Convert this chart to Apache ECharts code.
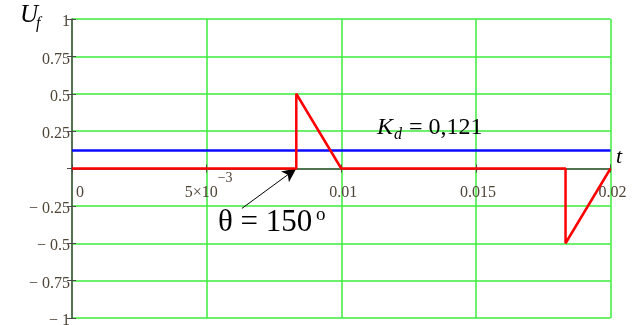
<!DOCTYPE html>
<html>
<head>
<meta charset="utf-8">
<script src="https://cdn.jsdelivr.net/npm/echarts@6/dist/echarts.min.js"></script>
<style>
  html, body { margin: 0; padding: 0; background: #ffffff; }
  #chart { width: 633px; height: 325px; }
</style>
</head>
<body>
<div id="chart"></div>
<script>
// Time axis (seconds) and phase-controlled voltage U_f
var tTicks = [0, 0.005, 0.01, 0.015, 0.02];
var uTicks = [-1, -0.75, -0.5, -0.25, 0, 0.25, 0.5, 0.75, 1];

// Output voltage: zero until the firing angle, then the tail of the half-wave
var ufTime  = [0, 0.00833, 0.00833, 0.01, 0.01833, 0.01833, 0.02];
var ufValue = [0, 0,       0.5,     0,    0,       -0.5,    0];

// Mean level (coefficient K_d)
var kd = 0.121;
var kdTime = [0, 0.02];

// Firing angle annotation arrow (from the caption to the switching instant)
var arrowFrom = [0.00631, -0.267];
var arrowTo   = [0.00833, 0];

var thetaText = '\u03b8 = 150';
var kdText = '= 0,121';

var serif = '"Liberation Serif", "Times New Roman", serif';
var labelColor = '#4f4438';
var gridGreen = '#3cec3c';
var axisGray = '#4a4a4a';

// plot box inside the 633x325 canvas
var gridTop = 19, gridBottom = 7, gridLeft = 72, gridRight = 22.5;
var plotH = 325 - gridTop - gridBottom;
// time axis sits on U = 0 (middle of the symmetric value range)
var zeroOffset = -plotH * (0 - uTicks[0]) / (uTicks[uTicks.length - 1] - uTicks[0]);

function pairs(xs, ys) {
  return xs.map(function (x, i) { return [x, ys[i]]; });
}

function xLabel(v) {
  if (Math.abs(v - 0.005) < 1e-9) return '{m|5\u00d710}{e|\u22123}';
  if (v === 0) return '{m|0}';
  return '{m|' + String(+v.toFixed(3)) + '}';
}

function yLabel(v) {
  if (v === 0) return '';
  var s = String(Math.abs(v));
  return '{v|' + (v < 0 ? '\u2212 ' + s : s) + '}';
}

var chart = echarts.init(document.getElementById('chart'), null, { renderer: 'canvas' });

var xBase = { type: 'value', min: tTicks[0], max: tTicks[tTicks.length - 1], interval: 0.005 };
var yBase = { type: 'value', min: uTicks[0], max: uTicks[uTicks.length - 1], interval: 0.25 };

chart.setOption({
  animation: false,
  backgroundColor: '#ffffff',
  grid: {
    left: gridLeft, right: gridRight, top: gridTop, bottom: gridBottom,
    containLabel: false, outerBoundsMode: 'none'
  },
  xAxis: [
    Object.assign({}, xBase, {
      z: 3,
      position: 'bottom',
      offset: zeroOffset,
      axisLine: { show: true, onZero: false, lineStyle: { color: axisGray, width: 1.5 } },
      axisTick: { show: true, inside: false, length: 4, lineStyle: { color: axisGray, width: 1 } },
      axisLabel: {
        show: true, margin: 2.5, color: labelColor, fontFamily: serif, fontSize: 16,
        alignMinLabel: 'left',
        formatter: xLabel,
        rich: {
          m: {
            fontFamily: serif, fontSize: 16, color: labelColor,
            lineHeight: 30, verticalAlign: 'bottom', padding: [0, 0, 0, 4]
          },
          e: {
            fontFamily: serif, fontSize: 14, color: labelColor,
            lineHeight: 14, verticalAlign: 'top'
          }
        }
      },
      splitLine: { show: false }
    }),
    Object.assign({}, xBase, {
      z: 3,
      position: 'bottom',
      offset: zeroOffset,
      axisLine: { show: false, onZero: false },
      axisTick: { show: true, inside: true, length: 4, lineStyle: { color: axisGray, width: 1 } },
      axisLabel: { show: false },
      splitLine: { show: false }
    }),
    Object.assign({}, xBase, {
      z: 0,
      position: 'bottom',
      axisLine: { show: false, onZero: false },
      axisTick: { show: false },
      axisLabel: { show: false },
      splitLine: { show: true, lineStyle: { color: gridGreen, width: 1.5 } }
    })
  ],
  yAxis: [
    Object.assign({}, yBase, {
      z: 3,
      position: 'left',
      axisLine: { show: true, onZero: false, lineStyle: { color: axisGray, width: 1.5 } },
      axisTick: { show: true, inside: false, length: 5, lineStyle: { color: axisGray, width: 1 } },
      axisLabel: {
        show: true, margin: 2, color: labelColor, fontFamily: serif, fontSize: 16,
        formatter: yLabel,
        rich: {
          v: {
            fontFamily: serif, fontSize: 16, color: labelColor,
            lineHeight: 22, verticalAlign: 'bottom'
          }
        }
      },
      splitLine: { show: false }
    }),
    Object.assign({}, yBase, {
      z: 3,
      position: 'left',
      axisLine: { show: false, onZero: false },
      axisTick: { show: true, inside: true, length: 4, lineStyle: { color: axisGray, width: 1 } },
      axisLabel: { show: false },
      splitLine: { show: false }
    }),
    Object.assign({}, yBase, {
      z: 0,
      position: 'left',
      axisLine: { show: false, onZero: false },
      axisTick: { show: false },
      axisLabel: { show: false },
      splitLine: { show: true, lineStyle: { color: gridGreen, width: 1.5 } }
    })
  ],
  series: [
    {
      name: 'Kd',
      type: 'line',
      z: 5,
      xAxisIndex: 0, yAxisIndex: 0,
      symbol: 'none',
      lineStyle: { color: '#0a0aff', width: 2.5 },
      data: pairs(kdTime, kdTime.map(function () { return kd; }))
    },
    {
      name: 'Uf',
      type: 'line',
      z: 6,
      xAxisIndex: 0, yAxisIndex: 0,
      symbol: 'none',
      lineStyle: { color: '#ff0000', width: 2.5 },
      data: pairs(ufTime, ufValue),
      markLine: {
        silent: true,
        animation: false,
        symbol: ['none', 'arrow'],
        symbolSize: [10, 14],
        label: { show: false },
        lineStyle: { color: '#000000', width: 1, type: 'solid' },
        data: [[{ coord: arrowFrom }, { coord: arrowTo }]]
      }
    }
  ],
  graphic: [
    { type: 'text', z: 10, x: 20, y: 3, style: { text: 'U', font: 'italic 25px ' + serif, fill: '#000' } },
    { type: 'text', z: 10, x: 36, y: 15.5, style: { text: 'f', font: 'italic 16px ' + serif, fill: '#000' } },
    { type: 'text', z: 10, x: 616, y: 146.5, style: { text: 't', font: 'italic 22px ' + serif, fill: '#000' } },
    { type: 'text', z: 10, x: 377, y: 116, style: { text: 'K', font: 'italic 24px ' + serif, fill: '#000' } },
    { type: 'text', z: 10, x: 394, y: 126.5, style: { text: 'd', font: 'italic 16px ' + serif, fill: '#000' } },
    { type: 'text', z: 10, x: 409, y: 116, style: { text: kdText, font: '24px ' + serif, fill: '#000' } },
    { type: 'text', z: 10, x: 218, y: 207, style: { text: thetaText, font: '31px ' + serif, fill: '#000' } },
    { type: 'text', z: 10, x: 316, y: 206, style: { text: 'o', font: '19px ' + serif, fill: '#000' } }
  ]
});
</script>
</body>
</html>
